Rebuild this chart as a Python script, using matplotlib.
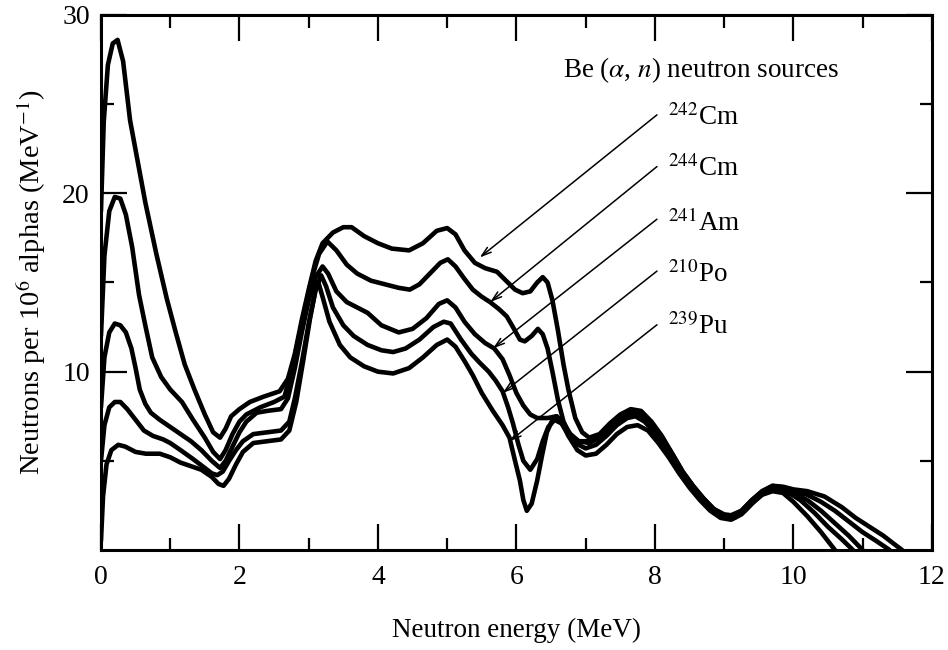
import matplotlib
matplotlib.use("Agg")
import matplotlib.pyplot as plt

plt.rcParams['font.family'] = ['Liberation Serif', 'DejaVu Serif']
plt.rcParams['mathtext.fontset'] = 'stix'

# Neutron energy spectra of Be(alpha, n) sources (neutrons per 1e6 alphas per MeV)
cm242_e = [0.0, 0.04, 0.1, 0.17, 0.24, 0.32, 0.42, 0.53, 0.64, 0.8, 0.95, 1.08, 1.21, 1.35, 1.5, 1.62,
           1.72, 1.8, 1.88, 2.0, 2.15, 2.35, 2.58, 2.7, 2.8, 2.9, 3.0, 3.1, 3.2, 3.35, 3.5, 3.62, 3.8,
           4.0, 4.2, 4.45, 4.65, 4.85, 5.0, 5.12, 5.25, 5.4, 5.55, 5.72, 5.85, 5.98, 6.09, 6.2, 6.3,
           6.38, 6.45, 6.52, 6.6, 6.68, 6.75, 6.85, 6.95, 7.05, 7.2, 7.35, 7.5, 7.65, 7.8, 7.95, 8.1,
           8.25, 8.4, 8.55, 8.7, 8.85, 9.0, 9.1, 9.25, 9.4, 9.55, 9.7, 9.85, 10.0, 10.2, 10.45, 10.7,
           10.9, 11.1, 11.3, 11.45, 11.57]
cm242_n = [19.0, 24.0, 27.2, 28.4, 28.6, 27.4, 24.1, 21.8, 19.5, 16.6, 14.1, 12.2, 10.4, 9.0, 7.6, 6.6,
           6.3, 6.8, 7.5, 7.9, 8.3, 8.6, 8.9, 9.6, 11.0, 12.9, 14.6, 16.2, 17.2, 17.8, 18.1, 18.1, 17.6,
           17.2, 16.9, 16.8, 17.2, 17.9, 18.05, 17.7, 16.8, 16.1, 15.8, 15.6, 15.1, 14.6, 14.4, 14.5, 15.0,
           15.3, 15.0, 14.0, 12.3, 10.4, 9.0, 7.4, 6.6, 6.3, 6.5, 7.1, 7.6, 7.9, 7.8, 7.2, 6.4,
           5.4, 4.4, 3.6, 2.9, 2.3, 2.0, 1.95, 2.2, 2.8, 3.3, 3.6, 3.55, 3.4, 3.3, 3.0, 2.4,
           1.8, 1.3, 0.8, 0.35, 0.0]

cm244_e = [0.0, 0.05, 0.12, 0.2, 0.28, 0.36, 0.45, 0.55, 0.64, 0.74, 0.87, 1.0, 1.17, 1.33, 1.5, 1.62,
           1.72, 1.8, 1.9, 2.0, 2.1, 2.3, 2.5, 2.65, 2.75, 2.85, 2.95, 3.05, 3.15, 3.27, 3.4, 3.55, 3.7,
           3.9, 4.1, 4.3, 4.46, 4.6, 4.75, 4.9, 5.01, 5.12, 5.25, 5.37, 5.5, 5.62, 5.75, 5.86, 5.95,
           6.05, 6.12, 6.22, 6.31, 6.38, 6.45, 6.52, 6.6, 6.68, 6.78, 6.9, 7.05, 7.2, 7.35, 7.5, 7.65,
           7.8, 7.95, 8.1, 8.25, 8.4, 8.55, 8.7, 8.85, 9.0, 9.1, 9.25, 9.4, 9.55, 9.7, 9.85, 10.0,
           10.2, 10.4, 10.6, 10.8, 11.0, 11.2, 11.39]
cm244_n = [12.0, 16.5, 19.0, 19.8, 19.7, 18.8, 17.0, 14.3, 12.6, 10.8, 9.7, 9.0, 8.3, 7.3, 6.3, 5.5,
           5.1, 5.6, 6.5, 7.2, 7.6, 8.0, 8.3, 8.6, 10.0, 11.8, 13.6, 15.3, 16.6, 17.3, 16.8, 16.0, 15.5,
           15.1, 14.9, 14.7, 14.6, 14.9, 15.5, 16.1, 16.3, 15.9, 15.2, 14.6, 14.2, 13.9, 13.5, 13.1, 12.5,
           11.8, 11.7, 12.0, 12.4, 12.1, 11.3, 10.0, 8.4, 7.2, 6.4, 6.1, 6.1, 6.4, 7.0, 7.5, 7.8,
           7.7, 7.1, 6.3, 5.4, 4.4, 3.6, 2.9, 2.3, 1.95, 1.9, 2.2, 2.8, 3.3, 3.6, 3.5, 3.3,
           3.1, 2.7, 2.2, 1.6, 1.0, 0.5, 0.0]

am241_e = [0.0, 0.05, 0.12, 0.2, 0.28, 0.36, 0.44, 0.5, 0.56, 0.64, 0.72, 0.85, 1.0, 1.15, 1.3, 1.45,
           1.6, 1.72, 1.8, 1.9, 2.0, 2.1, 2.25, 2.4, 2.6, 2.7, 2.8, 2.9, 3.0, 3.1, 3.2, 3.28, 3.4,
           3.55, 3.7, 3.85, 4.05, 4.3, 4.5, 4.7, 4.88, 5.0, 5.12, 5.25, 5.4, 5.55, 5.68, 5.8, 5.9,
           6.0, 6.1, 6.2, 6.3, 6.45, 6.58, 6.68, 6.78, 6.9, 7.05, 7.2, 7.35, 7.5, 7.65, 7.8, 7.95,
           8.1, 8.25, 8.4, 8.55, 8.7, 8.85, 9.0, 9.1, 9.25, 9.4, 9.55, 9.7, 9.85, 10.0, 10.2, 10.4,
           10.6, 10.8, 11.0]
am241_n = [8.0, 10.8, 12.2, 12.7, 12.6, 12.2, 11.3, 10.2, 9.0, 8.2, 7.7, 7.3, 6.9, 6.5, 6.1, 5.6,
           5.0, 4.6, 5.0, 5.8, 6.6, 7.2, 7.7, 7.8, 7.9, 8.5, 10.2, 12.2, 14.0, 15.3, 15.9, 15.5, 14.5,
           13.9, 13.6, 13.3, 12.6, 12.2, 12.4, 13.0, 13.8, 14.0, 13.6, 12.8, 12.1, 11.6, 11.3, 10.7, 9.8,
           8.8, 8.1, 7.6, 7.4, 7.4, 7.5, 7.1, 6.5, 6.1, 6.0, 6.3, 6.9, 7.4, 7.7, 7.6, 7.0,
           6.2, 5.3, 4.3, 3.5, 2.8, 2.2, 1.9, 1.85, 2.1, 2.7, 3.2, 3.5, 3.45, 3.2, 2.8, 2.2,
           1.5, 0.8, 0.0]

po210_e = [0.0, 0.05, 0.12, 0.2, 0.28, 0.38, 0.5, 0.62, 0.75, 0.9, 1.0, 1.15, 1.33, 1.5, 1.6, 1.68,
           1.76, 1.85, 1.95, 2.05, 2.2, 2.4, 2.6, 2.72, 2.8, 2.9, 3.0, 3.1, 3.18, 3.25, 3.35, 3.5, 3.65,
           3.85, 4.05, 4.22, 4.4, 4.6, 4.8, 4.95, 5.05, 5.2, 5.35, 5.47, 5.6, 5.7, 5.8, 5.88, 5.95,
           6.03, 6.1, 6.2, 6.3, 6.38, 6.46, 6.55, 6.65, 6.75, 6.85, 7.0, 7.15, 7.3, 7.45, 7.6, 7.72,
           7.85, 8.0, 8.15, 8.3, 8.45, 8.6, 8.75, 8.9, 9.05, 9.15, 9.3, 9.45, 9.6, 9.75, 9.9, 10.1,
           10.3, 10.5, 10.7, 10.86]
po210_n = [5.0, 7.0, 8.0, 8.3, 8.3, 7.9, 7.3, 6.7, 6.4, 6.2, 6.0, 5.6, 5.1, 4.6, 4.3, 4.2,
           4.4, 5.0, 5.6, 6.1, 6.5, 6.6, 6.7, 7.2, 8.5, 10.5, 12.7, 14.6, 15.4, 14.8, 13.6, 12.6, 12.0,
           11.5, 11.2, 11.1, 11.3, 11.8, 12.5, 12.8, 12.7, 11.8, 11.0, 10.5, 10.0, 9.5, 8.9, 8.0, 7.1,
           5.9, 5.0, 4.5, 5.1, 6.1, 6.9, 7.3, 7.1, 6.5, 6.0, 5.7, 5.9, 6.4, 7.0, 7.4, 7.5,
           7.2, 6.6, 5.8, 4.9, 4.0, 3.3, 2.6, 2.1, 1.8, 1.8, 2.2, 2.8, 3.3, 3.5, 3.3, 2.8,
           2.1, 1.3, 0.6, 0.0]

pu239_e = [0.0, 0.03, 0.08, 0.15, 0.25, 0.35, 0.5, 0.65, 0.85, 1.0, 1.15, 1.3, 1.45, 1.6, 1.7, 1.77,
           1.85, 1.95, 2.05, 2.2, 2.4, 2.6, 2.72, 2.82, 2.92, 3.02, 3.1, 3.14, 3.2, 3.3, 3.45, 3.6, 3.8,
           4.0, 4.22, 4.45, 4.65, 4.85, 5.0, 5.12, 5.25, 5.37, 5.5, 5.66, 5.8, 5.9, 5.98, 6.05, 6.1,
           6.15, 6.22, 6.3, 6.37, 6.44, 6.52, 6.58, 6.66, 6.75, 6.88, 7.0, 7.15, 7.3, 7.45, 7.6, 7.75,
           7.9, 8.05, 8.2, 8.35, 8.5, 8.65, 8.8, 8.95, 9.1, 9.25, 9.4, 9.55, 9.7, 9.85, 10.0, 10.2,
           10.4, 10.6]
pu239_n = [0.5, 3.0, 4.8, 5.6, 5.9, 5.8, 5.5, 5.4, 5.4, 5.2, 4.9, 4.7, 4.5, 4.1, 3.7, 3.6,
           4.0, 4.8, 5.5, 6.0, 6.1, 6.2, 6.7, 8.3, 10.6, 13.0, 14.6, 15.0, 14.2, 12.8, 11.5, 10.8, 10.3,
           10.0, 9.9, 10.2, 10.8, 11.5, 11.8, 11.4, 10.6, 9.8, 8.8, 7.8, 7.0, 6.3, 5.0, 3.9, 2.8,
           2.2, 2.6, 3.9, 5.3, 6.6, 7.3, 7.5, 7.1, 6.4, 5.6, 5.3, 5.4, 5.9, 6.5, 6.9, 7.0,
           6.7, 6.0, 5.2, 4.3, 3.5, 2.8, 2.2, 1.8, 1.7, 2.0, 2.6, 3.1, 3.3, 3.2, 2.7, 1.9,
           1.0, 0.0]

source_labels = [r'$^{242}$Cm', r'$^{244}$Cm', r'$^{241}$Am', r'$^{210}$Po', r'$^{239}$Pu']
label_baselines = [23.85, 20.95, 17.9, 15.0, 12.1]
arrow_starts = [(8.03, 24.4), (8.03, 21.5), (8.03, 18.55), (8.03, 15.64), (8.03, 12.63)]
arrow_tips = [(5.47, 16.4), (5.62, 13.9), (5.66, 11.3), (5.8, 8.8), (5.9, 6.1)]

x_ticks_major = [0, 2, 4, 6, 8, 10, 12]
x_ticks_minor = [1, 3, 5, 7, 9, 11]
y_ticks_major = [10, 20, 30]
y_ticks_minor = [5, 15, 25]

fig = plt.figure(figsize=(9.48, 6.5), dpi=100)
ax = fig.add_axes([0.1065, 0.1538, 0.8765, 0.8232])

series = [(cm242_e, cm242_n), (cm244_e, cm244_n), (am241_e, am241_n),
          (po210_e, po210_n), (pu239_e, pu239_n)]
for e, n in series:
    ax.plot(e, n, color='black', lw=3.3, solid_joinstyle='round', solid_capstyle='round')

ax.set_xlim(0, 12)
ax.set_ylim(0, 30)
ax.set_xticks(x_ticks_major)
ax.set_xticks(x_ticks_minor, minor=True)
ax.set_yticks(y_ticks_major)
ax.set_yticks(y_ticks_minor, minor=True)
ax.tick_params(which='both', direction='in', top=True, right=True, width=1.6, labelsize=20)
ax.tick_params(which='major', length=19)
ax.tick_params(which='minor', length=9)
ax.tick_params(axis='x', pad=11)
ax.tick_params(axis='y', pad=8)
for s in ax.spines.values():
    s.set_linewidth(2.2)

ax.set_xlabel('Neutron energy (MeV)', fontsize=19.5, labelpad=20)
ax.set_ylabel(r'Neutrons per 10$^6$ alphas (MeV$^{-1}$)', fontsize=20.5, labelpad=10)

ax.text(6.67, 26.5, r'Be ($\alpha$, $n$) neutron sources', fontsize=19.5, va='baseline', ha='left')
for lab, yb, st, tip in zip(source_labels, label_baselines, arrow_starts, arrow_tips):
    ax.text(8.19, yb, lab, fontsize=19.5, va='baseline', ha='left')
    ax.annotate('', xy=tip, xytext=st,
                arrowprops=dict(arrowstyle='->,head_length=0.7,head_width=0.22',
                                color='black', lw=1.1, shrinkA=0, shrinkB=0))

fig.savefig('out.png', dpi=100)
